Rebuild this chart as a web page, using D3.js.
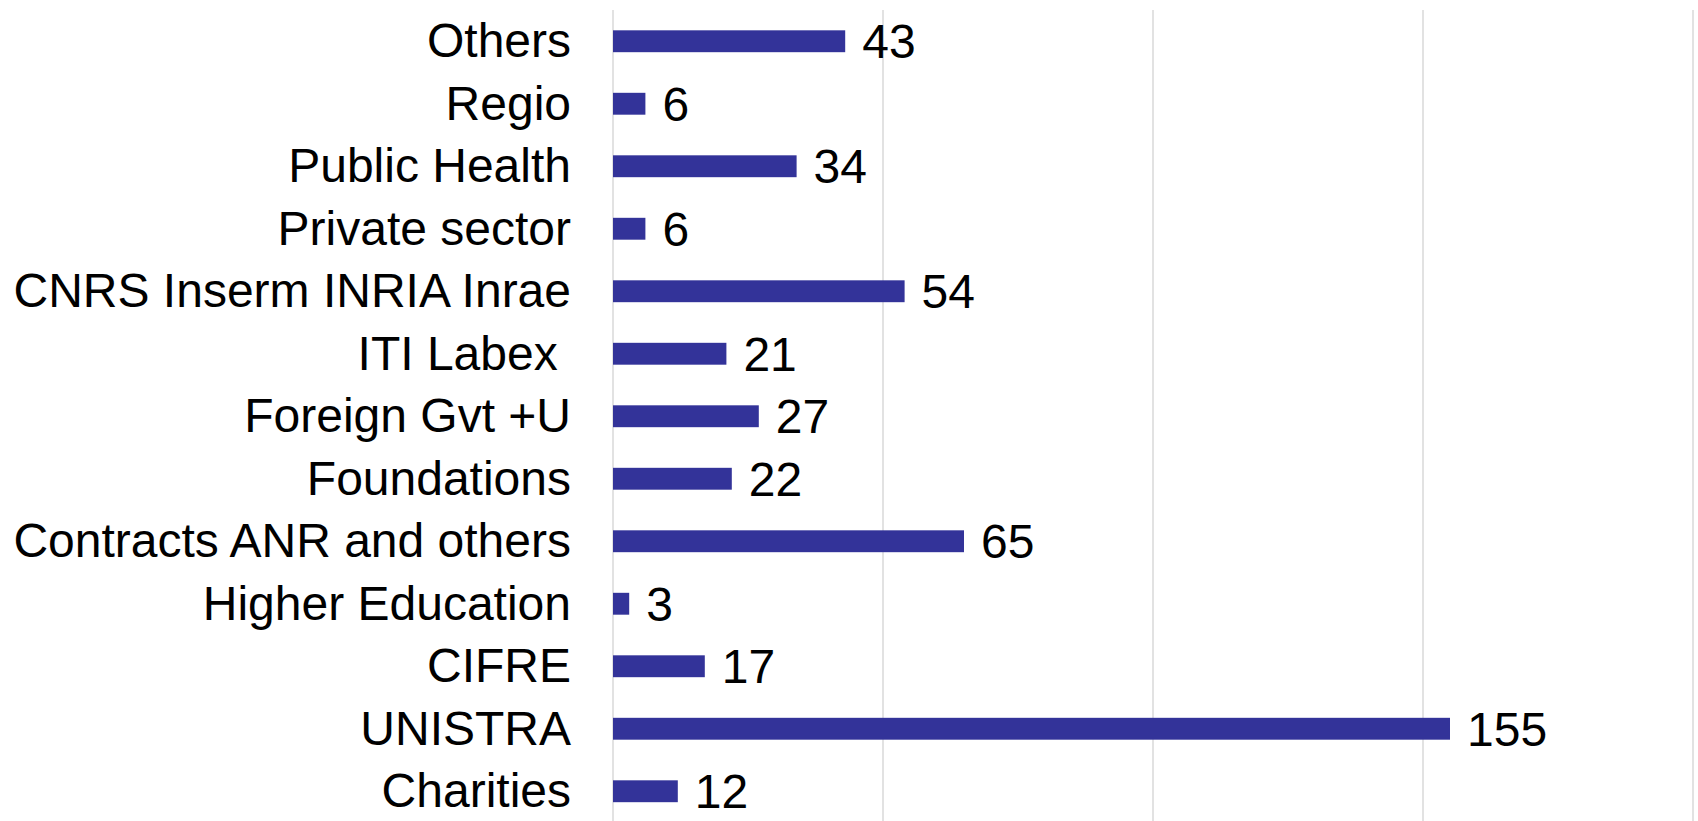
<html>
<head>
<script src="https://d3js.org/d3.v7.min.js"></script>
<style>
body { margin: 0; background: #fff; }
text { font-family: "Liberation Sans", Arial, Helvetica, sans-serif; fill: #000; }
</style>
</head>
<body>
<svg id="chart" width="1698" height="821"></svg>
<script>
// data, top to bottom as in the picture
var categories = ["Others", "Regio", "Public Health", "Private sector", "CNRS Inserm INRIA Inrae",
  "ITI Labex ", "Foreign Gvt +U", "Foundations", "Contracts ANR and others",
  "Higher Education", "CIFRE", "UNISTRA", "Charities"];
var values = [43, 6, 34, 6, 54, 21, 27, 22, 65, 3, 17, 155, 12];
var gridTicks = [0, 50, 100, 150, 200];

var width = 1698, height = 821;
var plotLeft = 613, plotRight = 1693, plotTop = 10, plotBottom = 822.5;

var svg = d3.select("#chart");

var xs = d3.scaleLinear().domain([0, 200]).range([plotLeft, plotRight]);
var ys = d3.scaleBand().domain(categories).range([plotTop, plotBottom])
  .paddingInner(0.65).paddingOuter(0.325);

// gridlines
svg.append("g").selectAll("line")
  .data(gridTicks)
  .enter().append("line")
  .attr("x1", d => xs(d)).attr("x2", d => xs(d))
  .attr("y1", plotTop).attr("y2", height)
  .attr("stroke", "#d9d9d9")
  .attr("stroke-width", 1.5);

// bars
svg.append("g").selectAll("rect")
  .data(values)
  .enter().append("rect")
  .attr("x", xs(0))
  .attr("y", (d, i) => ys(categories[i]))
  .attr("width", d => xs(d) - xs(0))
  .attr("height", ys.bandwidth())
  .attr("fill", "#333399");

// category labels
svg.append("g").selectAll("text")
  .data(categories)
  .enter().append("text")
  .attr("x", 571)
  .attr("y", d => ys(d) + ys.bandwidth() / 2 + 16)
  .attr("text-anchor", "end")
  .style("font-size", "48px")
  .style("white-space", "pre")
  .text(d => d);

// value labels
svg.append("g").selectAll("text")
  .data(values)
  .enter().append("text")
  .attr("x", d => xs(d) + 17)
  .attr("y", (d, i) => ys(categories[i]) + ys.bandwidth() / 2 + 17)
  .style("font-size", "48px")
  .text(d => d);
</script>
</body>
</html>
